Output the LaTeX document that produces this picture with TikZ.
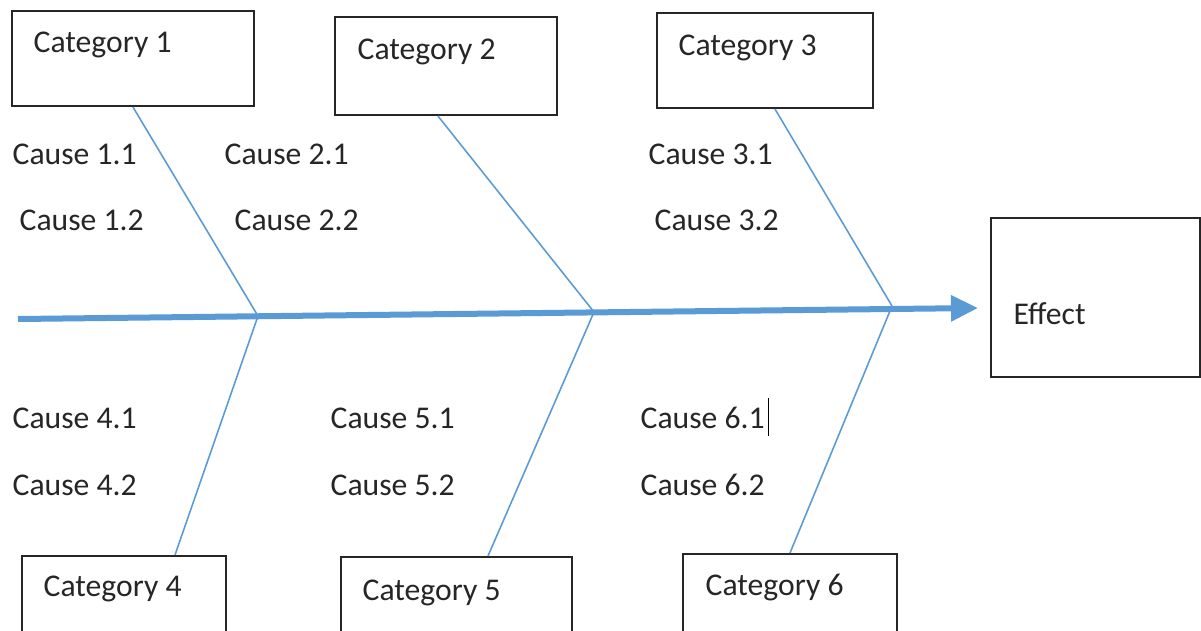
\documentclass[tikz,border=0pt]{standalone}
\usepackage{fontspec}
\setmainfont{Carlito}
\usetikzlibrary{arrows.meta,calc}
\definecolor{fishblue}{HTML}{5B9BD5}
\begin{document}
\begin{tikzpicture}[x=0.01cm,y=-0.01cm,
  box/.style={draw=black!85,line width=0.6pt,rectangle,inner sep=0pt},
  txt/.style={inner sep=0pt,anchor=base west,font=\fontsize{9pt}{11pt}\selectfont,text=black!85},
  bone/.style={draw=fishblue,line width=0.45pt},
  spine/.style={draw=fishblue,line width=0.06cm,-{Triangle[length=0.27cm,width=0.25cm]}}]
\useasboundingbox (0,0) rectangle (1201,630);
\clip (0,0) rectangle (1201,630);

\node[box,minimum width=2.42cm,minimum height=0.95cm] (cat1) at (133,58.5) {};
\node[box,minimum width=2.22cm,minimum height=0.98cm] (cat2) at (446,66) {};
\node[box,minimum width=2.16cm,minimum height=0.95cm] (cat3) at (765,60.5) {};
\node[box,minimum width=2.04cm,minimum height=1cm] (cat4) at (124,606) {};
\node[box,minimum width=2.31cm,minimum height=1cm] (cat5) at (456.5,607) {};
\node[box,minimum width=2.14cm,minimum height=1cm] (cat6) at (790,604) {};
\node[box,minimum width=2.09cm,minimum height=1.59cm] (effect) at (1095.5,297.5) {};

\node[txt] (cat1lbl) at (33,52) {Category 1};
\node[txt] (cat2lbl) at (357,59) {Category 2};
\node[txt] (cat3lbl) at (678,55) {Category 3};
\node[txt] (cat4lbl) at (43,596) {Category 4};
\node[txt] (cat5lbl) at (362,600) {Category 5};
\node[txt] (cat6lbl) at (705,595) {Category 6};
\node[txt] (effectlbl) at (1013,324) {Effect};

\node[txt] (c11) at (12,164) {Cause 1.1};
\node[txt] (c12) at (19,230) {Cause 1.2};
\node[txt] (c21) at (224,164) {Cause 2.1};
\node[txt] (c22) at (234,230) {Cause 2.2};
\node[txt] (c31) at (648,164) {Cause 3.1};
\node[txt] (c32) at (654,230) {Cause 3.2};
\node[txt] (c41) at (12,428) {Cause 4.1};
\node[txt] (c42) at (12,495) {Cause 4.2};
\node[txt] (c51) at (330,428) {Cause 5.1};
\node[txt] (c52) at (330,495) {Cause 5.2};
\node[txt] (c61) at (640,428) {Cause 6.1};
\node[txt] (c62) at (640,495) {Cause 6.2};
\draw[line width=0.4pt] ($(c61.base east)+(3,-30)$) -- ($(c61.base east)+(3,8)$);

\coordinate (tail) at (18,319);
\coordinate (head) at (978,308);
\coordinate (j1) at (258,316);
\coordinate (j2) at (594,312);
\coordinate (j3) at (892,306);

\draw[spine] (tail) -- (head);

\draw[bone] (cat1.south) -- (j1);
\draw[bone] ($(cat2.south)+(-8,0)$) -- (j2);
\draw[bone] ($(cat3.south)+(10,0)$) -- (j3);
\draw[bone] ($(cat4.north)+(51,0)$) -- (j1);
\draw[bone] ($(cat5.north)+(31.5,0)$) -- (j2);
\draw[bone] (cat6.north) -- (j3);
\end{tikzpicture}
\end{document}
